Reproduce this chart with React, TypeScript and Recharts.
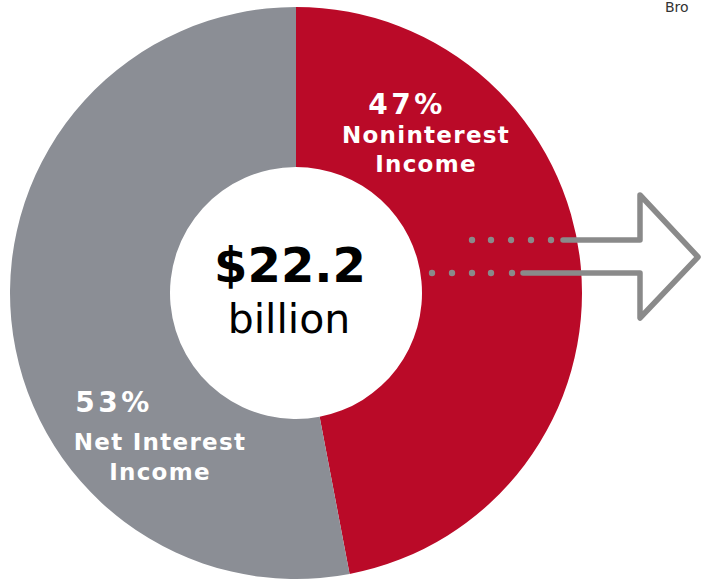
import { PieChart, Pie, Cell } from 'recharts';

const categories = ['Noninterest Income', 'Net Interest Income'];
const shares = [47, 53];
const sliceColors = ['#BA0A28', '#8B8E95'];
const pctLabels = ['47%', '53%'];
const nameLines = [
  ['Noninterest', 'Income'],
  ['Net Interest', 'Income'],
];
const totalLabel = '$22.2';
const totalUnit = 'billion';
const cornerText = 'Bro';

const data = categories.map((name, i) => ({ name, value: shares[i] }));

const W = 701;
const H = 579;
const CX = 296;
const CY = 293;

// where each slice's text sits
const labelPos = [
  { x: 407, pctY: 114, lines: [143, 172], nameX: 426 },
  { x: 114, pctY: 412, lines: [450, 480], nameX: 160 },
];

const font = "'DejaVu Sans', Verdana, sans-serif";

function Overlay() {
  const arrowColor = '#8A8A8A';
  const upperDots = [472, 491, 511, 531, 551];
  const lowerDots = [432, 452, 472, 491, 512];
  return (
    <svg
      width={W}
      height={H}
      style={{ position: 'absolute', left: 0, top: 0, fontFamily: font, pointerEvents: 'none' }}
    >
      {labelPos.map((p, i) => (
        <g key={i} fill="#fff" style={{ fontFamily: font, fontWeight: 700 }}>
          <text x={p.x} y={p.pctY} fontSize={28} letterSpacing={3.5} textAnchor="middle">
            {pctLabels[i]}
          </text>
          {nameLines[i].map((ln, j) => (
            <text key={j} x={p.nameX} y={p.lines[j]} fontSize={23} letterSpacing={1.3} textAnchor="middle">
              {ln}
            </text>
          ))}
        </g>
      ))}

      <text x={CX - 6} y={282} style={{ fontFamily: font, fontWeight: 700 }} fontSize={48} textAnchor="middle" fill="#000">
        {totalLabel}
      </text>
      <text x={CX - 7} y={333} style={{ fontFamily: font }} fontSize={41} textAnchor="middle" fill="#000">
        {totalUnit}
      </text>

      {upperDots.map((x) => (
        <circle key={'u' + x} cx={x} cy={240} r={3.2} fill={arrowColor} />
      ))}
      {lowerDots.map((x) => (
        <circle key={'l' + x} cx={x} cy={273} r={3.2} fill={arrowColor} />
      ))}
      <path
        d="M563 240 L640 240 L640 195 L698 257 L640 318 L640 273 L523 273"
        fill="none"
        stroke={arrowColor}
        strokeWidth={5.5}
        strokeLinecap="round"
        strokeLinejoin="round"
      />

      <text x={665} y={12} style={{ fontFamily: font }} fontSize={14} fill="#333">
        {cornerText}
      </text>
    </svg>
  );
}

export default function App() {
  return (
    <div style={{ position: 'absolute', left: 0, top: 0, width: W, height: H, background: '#fff' }}>
      <PieChart width={W} height={H} margin={{ top: 0, right: 0, bottom: 0, left: 0 }}>
        <Pie
          data={data}
          dataKey="value"
          nameKey="name"
          cx={CX}
          cy={CY}
          innerRadius={126}
          outerRadius={286}
          startAngle={90}
          endAngle={-270}
          stroke="none"
          isAnimationActive={false}
        >
          {data.map((d, i) => (
            <Cell key={d.name} fill={sliceColors[i]} />
          ))}
        </Pie>
      </PieChart>
      <Overlay />
    </div>
  );
}
